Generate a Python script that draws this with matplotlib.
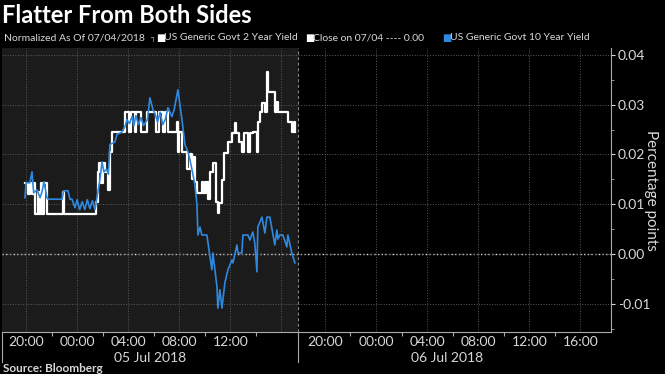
import numpy as np
import matplotlib.pyplot as plt

plt.rcParams['font.family'] = ['Lato', 'DejaVu Sans']

# hours since 20:00 on 07/04 (Bloomberg compresses the overnight gap)
t2 = [-0.08, 0.15, 0.3, 0.45, 0.6, 0.72, 0.9, 1.0, 1.15, 1.25, 1.4, 1.62, 2.9, 2.98,
      5.48, 5.6, 5.7, 5.85, 6.0, 6.2, 6.4, 6.55, 6.7, 7.75, 8.1, 8.2, 8.5, 8.65, 9.0,
      9.45, 10.2, 10.45, 10.7, 10.85, 11.1, 11.8, 11.9, 12.0, 12.2, 12.6, 12.83, 13.0,
      13.1, 13.22, 13.38, 13.75, 13.85, 14.0, 14.08, 14.2, 14.28, 14.4, 14.63, 14.9,
      15.0, 15.1, 15.34, 15.5, 15.81, 16.12, 16.35, 16.45, 16.65, 16.9, 17.1, 17.35,
      17.5, 17.75, 18.1, 18.2, 18.35, 18.5, 18.75, 18.85, 18.92, 19.5, 19.68, 19.76,
      20.5, 20.8, 20.95, 21.05]
y2 = [0.0143, 0.0120, 0.0143, 0.0120, 0.0143, 0.0080, 0.0125, 0.0080, 0.0143, 0.0080,
      0.0143, 0.0080, 0.0125, 0.0080, 0.0105, 0.0165, 0.0183, 0.0143, 0.0183, 0.0165,
      0.0129, 0.0205, 0.0246, 0.0286, 0.0246, 0.0286, 0.0246, 0.0286, 0.0246, 0.0286,
      0.0246, 0.0286, 0.0246, 0.0286, 0.0246, 0.0266, 0.0205, 0.0246, 0.0205, 0.0170,
      0.0200, 0.0150, 0.0195, 0.0145, 0.0123, 0.0145, 0.0123, 0.0145, 0.0123, 0.0145,
      0.0110, 0.0165, 0.0183, 0.0105, 0.0082, 0.0103, 0.0149, 0.0203, 0.0225, 0.0243,
      0.0264, 0.0243, 0.0225, 0.0205, 0.0243, 0.0205, 0.0243, 0.0246, 0.0205, 0.0266,
      0.0286, 0.0304, 0.0286, 0.0366, 0.0326, 0.0286, 0.0306, 0.0286, 0.0266, 0.0246,
      0.0266, 0.0246]

t10 = [-0.08, 0.0, 0.3, 0.47, 0.6, 0.86, 1.1, 1.25, 1.41, 1.64, 1.72, 2.82, 2.95, 3.29,
       3.44, 3.6, 3.83, 4.0, 4.2, 4.4, 4.6, 4.8, 5.0, 5.2, 5.4, 5.63, 5.79, 5.95, 6.1,
       6.3, 6.45, 6.57, 6.96, 7.12, 7.5, 7.75, 7.9, 8.1, 8.3, 8.45, 8.6, 8.8, 9.0, 9.2,
       9.5, 9.7, 9.94, 10.1, 10.3, 10.5, 10.7, 10.9, 11.11, 11.42, 11.6, 11.89, 12.21,
       12.44, 12.68, 12.83, 12.99, 13.22, 13.38, 13.46, 13.62, 13.77, 14.16, 14.55,
       14.63, 14.95, 15.02, 15.18, 15.34, 15.57, 15.81, 16.12, 16.2, 16.51, 16.59, 16.9,
       16.98, 17.37, 17.53, 17.76, 17.92, 18.08, 18.15, 18.47, 18.7, 18.86, 19.09, 19.48,
       19.64, 19.72, 19.87, 20.11, 20.42, 20.5, 20.81, 21.05]
y10 = [0.0113, 0.0143, 0.0143, 0.0165, 0.0123, 0.0129, 0.0113, 0.0125, 0.0145, 0.0113,
       0.0110, 0.0110, 0.0127, 0.0127, 0.0110, 0.0110, 0.0093, 0.0109, 0.0089, 0.0105,
       0.0089, 0.0109, 0.0091, 0.0107, 0.0089, 0.0125, 0.0150, 0.0185, 0.0165, 0.0170,
       0.0160, 0.0220, 0.0225, 0.0240, 0.0245, 0.0256, 0.0270, 0.0262, 0.0276, 0.0258,
       0.0278, 0.0260, 0.0274, 0.0258, 0.0270, 0.0314, 0.0290, 0.0282, 0.0265, 0.0285,
       0.0260, 0.0270, 0.0294, 0.0276, 0.0290, 0.0330, 0.0270, 0.0220, 0.0205, 0.0190,
       0.0170, 0.0140, 0.0100, 0.0038, 0.0054, 0.0038, 0.0038, -0.0032, 0.0002, -0.0066,
       -0.0109, -0.0072, -0.0109, -0.0058, -0.0032, -0.0012, -0.0018, 0.0018, 0.0002,
       0.0002, 0.0038, 0.0038, 0.0028, 0.0044, 0.0020, -0.0036, 0.0054, 0.0074, 0.0042,
       0.0074, 0.0074, 0.0018, 0.0048, 0.0030, 0.0038, 0.0038, 0.0014, 0.0038, 0.0002,
       -0.0018]

tick_pos = [0, 4, 8, 12, 16, 20, 23.4, 27.4, 31.4, 35.4, 39.4, 43.4]
tick_lab = ['20:00', '00:00', '04:00', '08:00', '12:00', '',
            '20:00', '00:00', '04:00', '08:00', '12:00', '16:00']
minor_pos = [2, 6, 10, 14, 18, 25.4, 29.4, 33.4, 37.4, 41.4]
yticks = [-0.01, 0.0, 0.01, 0.02, 0.03, 0.04]
days = ['05 Jul 2018', '06 Jul 2018']
day_mid = [9.7, 33.0]

fg = '#d8d8d8'
blue = '#2f88e0'
x0, x1, split = -1.88, 45.8, 21.28

fig = plt.figure(figsize=(6.65, 3.74), dpi=100, facecolor='black')
ax = fig.add_axes([2 / 665, 1 - 332 / 374, 609 / 665, 284 / 374])
ax.set_facecolor('black')
ax.set_xlim(x0, x1)
ax.set_ylim(-0.0157, 0.0414)
ax.axvspan(x0, split, color='#1b1b1b', zorder=0, lw=0)
ax.axvline(split, color='#808080', ls=(0, (3, 2)), lw=0.8, zorder=1)

ax.set_xticks(tick_pos)
ax.set_xticks(minor_pos, minor=True)
ax.set_xticklabels(tick_lab)
ax.set_yticks(yticks)
ax.set_yticklabels(['%.2f' % v for v in yticks])
ax.set_yticks(np.arange(-0.015, 0.041, 0.005), minor=True)

ax.yaxis.tick_right()
ax.tick_params(axis='x', which='major', length=0, pad=3, colors=fg, labelsize=10)
ax.tick_params(axis='x', which='minor', length=3, color='#aaaaaa', width=0.8)
ax.tick_params(axis='y', which='major', length=3, colors=fg, labelsize=10, pad=2)
ax.tick_params(axis='y', which='minor', length=2, color='#aaaaaa')

ax.grid(True, which='major', color='#5a5a5a', ls=':', lw=0.7)
ax.axhline(0, color='#e0e0e0', ls=':', lw=1.0, zorder=1)

for s in ['top', 'left']:
    ax.spines[s].set_visible(False)
for s in ['right', 'bottom']:
    ax.spines[s].set_color('#aaaaaa')
    ax.spines[s].set_linewidth(0.8)

ax.plot(t2, y2, color='white', lw=1.6, drawstyle='steps-post', zorder=3)
ax.plot(t10, y10, color=blue, lw=1.2, zorder=4)

fig.text(651 / 665, 1 - 190 / 374, 'Percentage points', rotation=270, color=fg,
         fontsize=11, ha='center', va='center')

# day separators and date labels under the axis
for xs in [x0, split]:
    ax.plot([xs, xs], [0, -0.105], transform=ax.get_xaxis_transform(),
            color='#aaaaaa', lw=0.8, clip_on=False)
for d, m in zip(days, day_mid):
    ax.text(m, -0.07, d, transform=ax.get_xaxis_transform(),
            ha='center', va='top', color=fg, fontsize=10)

fig.text(2 / 665, 1 - 4 / 374, 'Flatter From Both Sides', color='white',
         fontsize=17, fontweight='bold', va='top', ha='left')

ly = 1 - 38 / 374
fs = 7.5
fig.text(4 / 665, ly, 'Normalized As Of 07/04/2018', color=fg, fontsize=fs, va='center')
fig.text(150 / 665, ly, '\u2510', color='#aaaaaa', fontsize=6, va='center',
         family='DejaVu Sans')
fig.text(156 / 665, ly, '\u25a0', color='white', fontsize=7, va='center',
         family='DejaVu Sans')
fig.text(164 / 665, ly, 'US Generic Govt 2 Year Yield', color=fg, fontsize=fs, va='center')
fig.text(305 / 665, ly, '\u25a0', color='white', fontsize=7, va='center',
         family='DejaVu Sans')
fig.text(313 / 665, ly, 'Close on 07/04 ---- 0.00', color=fg, fontsize=fs, va='center')
fig.text(442 / 665, ly, '\u25a0', color=blue, fontsize=7, va='center',
         family='DejaVu Sans')
fig.text(450 / 665, ly, 'US Generic Govt 10 Year Yield', color=fg, fontsize=fs,
         va='center')

fig.text(3 / 665, 1 - 368 / 374, 'Source: Bloomberg', color=fg, fontsize=8.5,
         fontweight='bold', va='center')

fig.savefig('out.png', dpi=100, facecolor='black')
